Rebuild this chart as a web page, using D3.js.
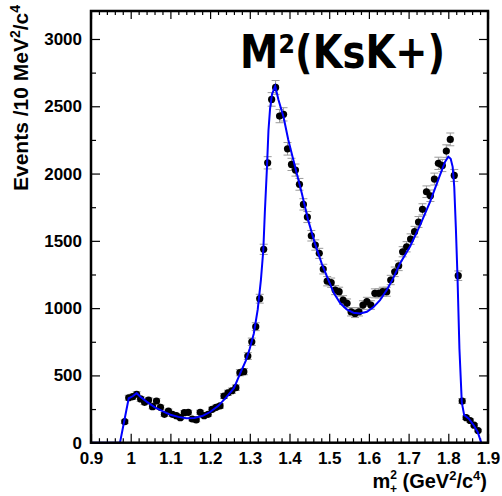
<!DOCTYPE html>
<html>
<head>
<meta charset="utf-8">
<script src="https://cdn.jsdelivr.net/npm/d3@7"></script>
<style>
  body { margin: 0; background: #fff; }
  text { font-family: "Liberation Sans", Arial, Helvetica, sans-serif; font-weight: bold; }
</style>
</head>
<body>
<div id="chart"></div>
<script>
// histogram: 10 MeV^2 bins, first bin starts at 0.98
const binStart = 0.98;
const binWidth = 0.01;
const events = [
  156, 334, 342, 360, 325, 300, 317, 268, 310, 263,
  211, 235, 211, 201, 186, 223, 226, 176, 169, 226,
  201, 211, 248, 263, 273, 347, 371, 386, 409, 520,
  528, 644, 750, 862, 1070, 1437, 2080, 2551, 2640, 2427,
  2440, 2184, 2068, 2026, 1920, 1771, 1677, 1538, 1469, 1407,
  1290, 1200, 1189, 1134, 1122, 1060, 1036, 973, 961, 973,
  1023, 1048, 1023, 1110, 1110, 1122, 1122, 1209, 1270, 1315,
  1419, 1456, 1513, 1568, 1640, 1734, 1865, 1835, 1959, 2076,
  2060, 2167, 2254, 1986, 1241, 310, 186, 165, 130, 90
];

// fit curve (blue)
const fitX = [0.900, 0.973, 0.995, 1.005, 1.015, 1.025, 1.040, 1.060, 1.080, 1.100,
  1.120, 1.140, 1.160, 1.180, 1.200, 1.220, 1.240, 1.260, 1.275, 1.290,
  1.300, 1.310, 1.320, 1.328, 1.334, 1.338, 1.343, 1.347, 1.351, 1.356,
  1.364, 1.372, 1.385, 1.397, 1.414, 1.431, 1.447, 1.464, 1.481, 1.498,
  1.512, 1.528, 1.544, 1.561, 1.578, 1.595, 1.611, 1.628, 1.645, 1.661,
  1.678, 1.704, 1.729, 1.754, 1.779, 1.792, 1.800, 1.806, 1.811, 1.815,
  1.819, 1.823, 1.828, 1.834, 1.840, 1.851, 1.864, 1.874, 1.883];
const fitY = [0, 0, 330, 345, 368, 340, 305, 265, 235, 208,
  192, 182, 183, 198, 228, 272, 335, 405, 510, 610,
  700, 810, 990, 1210, 1430, 1720, 2030, 2320, 2480, 2590,
  2650, 2550, 2420, 2250, 2050, 1853, 1654, 1481, 1333, 1209,
  1110, 1036, 991, 966, 961, 973, 1006, 1060, 1134, 1221,
  1330, 1460, 1617, 1790, 1989, 2088, 2125, 2110, 2050, 1900,
  1600, 1250, 700, 300, 205, 180, 130, 80, 0];

const xTicks = [0.9, 1.0, 1.1, 1.2, 1.3, 1.4, 1.5, 1.6, 1.7, 1.8, 1.9];
const xTickLabels = ["0.9", "1", "1.1", "1.2", "1.3", "1.4", "1.5", "1.6", "1.7", "1.8", "1.9"];
const yTicks = [0, 500, 1000, 1500, 2000, 2500, 3000];
const yTickLabels = ["0", "500", "1000", "1500", "2000", "2500", "3000"];

const width = 502, height = 496;
const plot = {left: 91, right: 488, top: 11, bottom: 442.7};

const svg = d3.select("#chart").append("svg")
  .attr("width", width)
  .attr("height", height);

svg.append("rect").attr("width", width).attr("height", height).attr("fill", "#fff");

const x = d3.scaleLinear().domain([0.9, 1.9]).range([plot.left, plot.right]);
const y = d3.scaleLinear().domain([0, 3208]).range([plot.bottom, plot.top]);

const xMinor = d3.range(0.9, 1.9001, 0.02).filter(v => Math.abs(v * 10 - Math.round(v * 10)) > 1e-6);
const yMinor = d3.range(250, 3208, 500);

// ticks: bottom/left with labels, top/right mirrored
function tickAxis(axis, vals, size, pos, labels) {
  const g = svg.append("g").attr("transform", pos);
  const a = axis.tickValues(vals).tickSizeInner(size).tickSizeOuter(0);
  if (labels) a.tickFormat((d, i) => labels[i]).tickPadding(9);
  else a.tickFormat("");
  g.call(a);
  g.select(".domain").remove();
  g.selectAll("line").attr("stroke", "#000").attr("stroke-width", 1.2);
  g.selectAll("text").attr("fill", "#000").style("font-size", "17px");
  return g;
}
tickAxis(d3.axisBottom(x), xTicks, -9, `translate(0,${plot.bottom})`, xTickLabels);
tickAxis(d3.axisBottom(x), xMinor, -4.5, `translate(0,${plot.bottom})`);
tickAxis(d3.axisTop(x), xTicks, -8, `translate(0,${plot.top})`);
tickAxis(d3.axisTop(x), xMinor, -4, `translate(0,${plot.top})`);
tickAxis(d3.axisLeft(y), yTicks, -9, `translate(${plot.left},0)`, yTickLabels);
tickAxis(d3.axisLeft(y), yMinor, -5, `translate(${plot.left},0)`);
tickAxis(d3.axisRight(y), yTicks, -9, `translate(${plot.right},0)`);
tickAxis(d3.axisRight(y), yMinor, -5, `translate(${plot.right},0)`);

// data points with poisson errors
const pts = events.map((v, i) => ({m: binStart + binWidth * (i + 0.5), n: v}));
const eg = svg.append("g").attr("stroke", "#9a9a9a").attr("stroke-width", 1);
pts.forEach(d => {
  const e = Math.sqrt(d.n);
  const cx = x(d.m), y1 = y(d.n + e), y2 = y(d.n - e);
  eg.append("line").attr("x1", cx).attr("x2", cx).attr("y1", y1).attr("y2", y2);
  eg.append("line").attr("x1", cx - 4).attr("x2", cx + 4).attr("y1", y1).attr("y2", y1);
  eg.append("line").attr("x1", cx - 4).attr("x2", cx + 4).attr("y1", y2).attr("y2", y2);
});

svg.append("g").selectAll("circle")
  .data(pts)
  .enter()
  .append("circle")
  .attr("cx", d => x(d.m))
  .attr("cy", d => y(d.n))
  .attr("r", 3.6)
  .attr("fill", "#000");

const line = d3.line().x((d, i) => x(fitX[i])).y(d => y(d));
svg.append("path")
  .datum(fitY)
  .attr("d", line)
  .attr("fill", "none")
  .attr("stroke", "#0000ff")
  .attr("stroke-width", 2);

// frame
svg.append("rect")
  .attr("x", plot.left).attr("y", plot.top)
  .attr("width", plot.right - plot.left).attr("height", plot.bottom - plot.top)
  .attr("fill", "none").attr("stroke", "#000").attr("stroke-width", 2.5);

// title
svg.append("text")
  .attr("x", 240).attr("y", 68)
  .attr("textLength", 205).attr("lengthAdjust", "spacingAndGlyphs")
  .style("font-family", '"Comic Sans MS", "DejaVu Sans", sans-serif')
  .style("font-size", "46px")
  .text("M²(KsK+)");

// y label
const yl = svg.append("text")
  .attr("transform", "translate(28,5) rotate(-90)")
  .attr("text-anchor", "end")
  .style("font-size", "21px");
yl.append("tspan").text("Events /10 MeV");
yl.append("tspan").attr("dy", -8).style("font-size", "14px").text("2");
yl.append("tspan").attr("dy", 8).text("/c");
yl.append("tspan").attr("dy", -8).style("font-size", "14px").text("4");

// x label
const xl = svg.append("text")
  .attr("x", 487).attr("y", 488)
  .attr("text-anchor", "end")
  .style("font-size", "20px");
xl.append("tspan").text("m");
xl.append("tspan").attr("dy", -9).style("font-size", "12px").text("2");
xl.append("tspan").attr("dx", -7).attr("dy", 14).style("font-size", "12px").text("+");
xl.append("tspan").attr("dy", -5).text(" (GeV");
xl.append("tspan").attr("dy", -8).style("font-size", "13px").text("2");
xl.append("tspan").attr("dy", 8).text("/c");
xl.append("tspan").attr("dy", -8).style("font-size", "13px").text("4");
xl.append("tspan").attr("dy", 8).text(")");
</script>
</body>
</html>
